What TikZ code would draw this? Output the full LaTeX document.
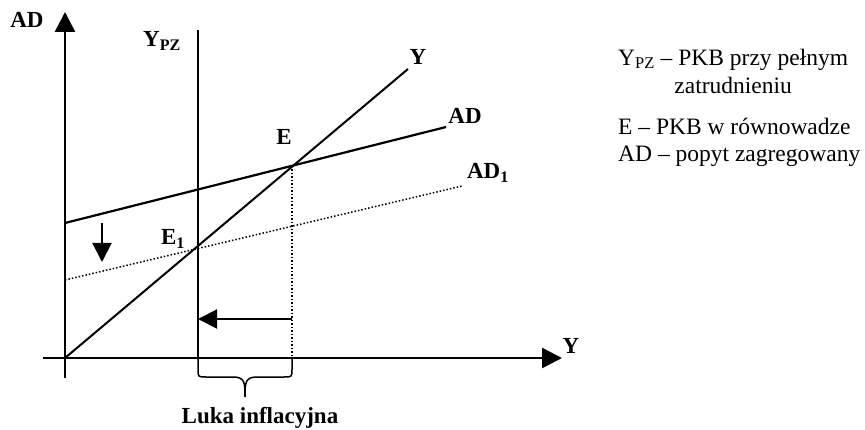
\documentclass[tikz,border=0pt]{standalone}
\usepackage{fontspec}
\setmainfont{Liberation Serif}
\usepackage{tikz}
\usetikzlibrary{
    positioning,
    arrows.meta,
    calc
}

\begin{document}
\begin{tikzpicture}[x=1pt, y=-1pt,
    axis/.style={line width=2.6pt, -{Triangle[length=20pt, width=20pt]}},
    curve/.style={line width=2pt},
    dotline/.style={line width=1.5pt, dotted},
    shiftarr/.style={line width=2pt, -{Triangle[length=19pt, width=19pt]}},
    lbl/.style={font=\fontsize{23}{27}\selectfont\bfseries, inner sep=0pt},
    leg/.style={font=\fontsize{23.5}{28}\selectfont, align=center, inner sep=0pt, anchor=west}]

    \useasboundingbox (0,0) rectangle (865,430);

    % ============ KEY POINTS ============
    \coordinate (O)    at (65,358);
    \coordinate (Ytop) at (65,12);
    \coordinate (Ybot) at (65,378);
    \coordinate (Xl)   at (43,358);
    \coordinate (Xr)   at (562,358);
    \coordinate (YLe)  at (408,69);
    \coordinate (ADs)  at (65,223);
    \coordinate (ADe)  at (446,127);
    \coordinate (AD1s) at (65,280);
    \coordinate (AD1e) at (462,186);
    \coordinate (E)    at (292,166);
    \coordinate (E1)   at (198,247);
    \coordinate (PZt)  at (198,30);
    \coordinate (Bl)   at (E1 |- O);
    \coordinate (Br)   at (E |- O);
    \coordinate (Ga)   at (292,319);
    \coordinate (Gb)   at (198,319);
    \coordinate (Da)   at (102,223);
    \coordinate (Db)   at (102,262);

    % ============ AXES ============
    \draw[axis] (Ybot) -- (Ytop);
    \draw[axis] (Xl) -- (Xr);
    \node[lbl] (lAD) at (27,20) {AD};
    \node[lbl] (lY)  at (571,346) {Y};

    % ============ CURVES ============
    \draw[line width=1.5pt] (PZt) -- (Bl);
    \draw[curve] (O) -- (YLe);
    \draw[curve, line width=2.2pt] (ADs) -- (ADe);
    \draw[dotline] (AD1s) -- (AD1e);
    \draw[dotline] (E) -- (Br);

    \node[lbl] (lPZ)  at (162,41)  {Y\textsubscript{PZ}};
    \node[lbl] (lYL)  at (418,57)  {Y};
    \node[lbl] (lADL) at (465,116) {AD};
    \node[lbl] (lAD1) at (488,173) {AD\textsubscript{1}};
    \node[lbl] (lE)   at (284,137) {E};
    \node[lbl] (lE1)  at (173,239) {E\textsubscript{1}};

    % shifts
    \draw[shiftarr] (Ga) -- (Gb);
    \draw[shiftarr] (Da) -- (Db);

    % gap brace below the axis
    \draw[line width=1.5pt] (Bl) -- ++(0,11) .. controls ++(0,8) .. ++(8,8) -- ++(27,0)
      .. controls ++(12,0) and ++(0,-14) .. ++(12,20)
      .. controls ++(0,-14) and ++(-12,0) .. ++(12,-20) -- ++(27,0)
      .. controls ++(8,0) .. ++(8,-8) -- (Br);
    \node[lbl] (lLuka) at (260,418) {Luka inflacyjna};

    % ============ LEGEND ============
    \node[leg] (kPZ) at (618,71)  {Y\textsubscript{PZ} -- PKB przy pełnym\\zatrudnieniu};
    \node[leg] (kE)  at (618,126) {E -- PKB w równowadze};
    \node[leg] (kAD) at (618,156) {AD -- popyt zagregowany};

  \end{tikzpicture}
\end{document}
